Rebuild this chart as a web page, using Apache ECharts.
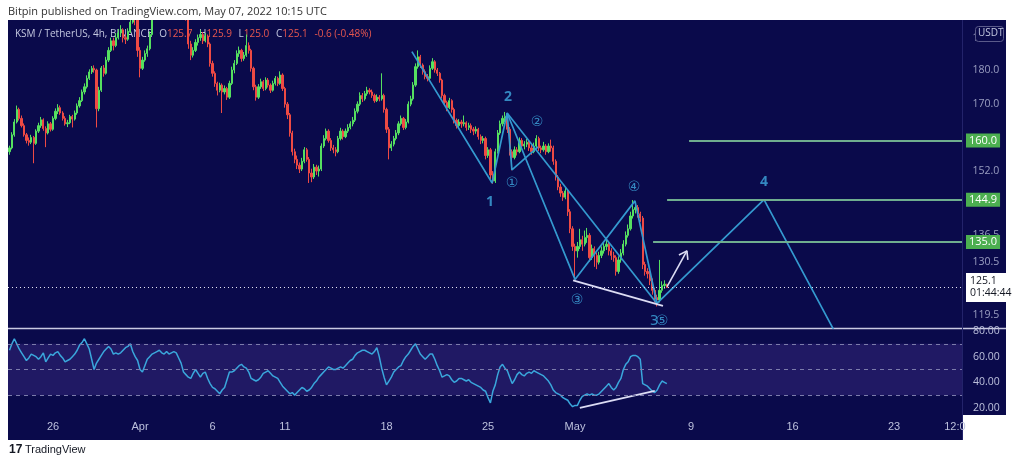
<!DOCTYPE html>
<html><head><meta charset="utf-8">
<script src="https://cdn.jsdelivr.net/npm/echarts@6/dist/echarts.min.js"></script>
<style>html,body{margin:0;padding:0;background:#fff;}#c{width:1024px;height:465px;}</style>
</head><body><div id="c"></div>
<script>
// 4h candles from 23 Mar 2022 00:00 UTC, rows = [open, close, low, high]
const candles = [
[157.0,158.0,156.2,158.6],[158.0,161.5,157.6,162.2],[161.5,165.0,161.0,165.8],[165.0,168.5,164.6,169.6],[168.5,166.0,165.4,169.0],
[166.0,164.0,163.5,166.8],[164.0,161.5,161.0,164.6],[161.5,160.0,159.2,162.0],[160.0,159.5,158.6,160.8],[159.5,160.8,159.0,161.5],
[160.8,159.2,154.0,161.2],[159.2,162.5,158.8,163.0],[162.5,164.0,162.0,164.8],[164.0,165.6,163.4,166.4],[165.6,163.2,162.6,166.0],
[163.2,162.0,158.2,163.8],[162.0,164.5,161.6,165.2],[164.5,163.0,162.4,165.0],[163.0,166.0,162.6,166.6],[166.0,168.0,165.5,168.8],
[168.0,169.0,167.2,170.0],[169.0,167.5,167.0,169.6],[167.5,166.0,165.4,168.0],[166.0,164.5,164.0,166.6],[164.5,164.8,163.6,165.6],
[164.8,166.5,164.4,167.0],[166.5,165.8,163.5,167.0],[165.8,167.5,165.4,168.2],[167.5,169.5,167.0,170.2],[169.5,171.0,169.0,172.0],
[171.0,173.5,170.6,174.2],[173.5,175.0,172.8,176.0],[175.0,177.5,174.5,178.4],[177.5,179.4,177.0,180.2],[179.4,180.5,178.8,181.2],
[180.5,180.0,179.2,181.4],[180.0,168.7,163.5,180.4],[168.7,174.0,168.0,175.0],[174.0,180.6,173.5,181.2],[180.6,179.0,178.0,181.5],
[179.0,183.0,178.6,184.0],[183.0,186.0,182.4,187.0],[186.0,189.0,185.5,190.0],[189.0,187.5,186.0,190.0],[187.5,190.0,187.0,191.5],
[190.0,191.5,189.4,192.8],[191.5,192.5,190.5,194.0],[192.5,190.0,188.5,193.0],[190.0,189.5,188.0,191.0],[189.5,192.0,189.0,193.0],
[192.0,195.0,191.5,196.5],[195.0,198.0,194.5,199.5],[198.0,196.0,194.0,199.0],[196.0,186.0,184.0,196.5],[186.0,180.5,177.8,187.0],
[180.5,183.0,180.0,184.0],[183.0,185.0,182.5,186.0],[185.0,186.5,184.0,187.5],[186.5,191.0,186.0,192.0],[191.0,196.5,190.5,197.5],
[196.5,199.0,196.0,200.5],[199.0,201.0,198.0,202.5],[201.0,203.0,200.0,204.0],[203.0,206.0,202.0,207.0],[206.0,208.0,205.0,209.5],
[208.0,205.5,204.5,209.0],[205.5,207.0,204.5,208.0],[207.0,210.0,206.0,211.0],[210.0,208.5,207.0,211.0],[208.5,206.0,205.0,209.0],
[206.0,204.0,203.0,207.0],[204.0,205.0,202.5,206.0],[205.0,201.0,200.0,205.5],[201.0,197.0,195.5,202.0],[197.0,188.0,186.5,198.0],
[188.0,184.5,183.0,189.0],[184.5,186.0,183.8,187.0],[186.0,188.5,185.5,189.5],[188.5,190.0,187.5,191.0],[190.0,191.0,189.0,192.5],
[191.0,189.0,188.0,191.8],[189.0,190.5,188.5,191.5],[190.5,188.0,187.0,191.0],[188.0,182.0,181.0,188.5],[182.0,179.0,178.0,182.8],
[179.0,176.0,175.0,179.6],[176.0,174.0,172.5,176.5],[174.0,175.5,173.4,176.2],[175.5,173.5,167.5,176.0],[173.5,174.5,172.8,175.4],
[174.5,172.0,171.2,175.0],[172.0,176.0,171.5,176.8],[176.0,180.0,175.5,181.0],[180.0,182.0,179.0,183.0],[182.0,185.0,181.5,186.0],
[185.0,186.0,184.0,187.2],[186.0,183.5,182.5,186.5],[183.5,184.5,182.8,185.5],[184.5,187.5,184.0,191.0],[187.5,186.0,185.0,188.5],
[186.0,180.5,179.5,186.5],[180.5,175.0,174.0,181.0],[175.0,172.0,171.0,175.6],[172.0,175.0,171.5,175.8],[175.0,176.5,174.4,177.4],
[176.5,174.5,173.8,177.0],[174.5,177.0,174.0,177.8],[177.0,175.5,174.8,177.6],[175.5,174.0,173.2,176.0],[174.0,176.0,173.6,176.8],
[176.0,177.5,175.4,178.2],[177.5,176.0,175.2,178.0],[176.0,178.5,175.6,179.6],[178.5,174.5,173.8,179.0],[174.5,170.0,169.0,175.0],
[170.0,167.0,165.8,170.6],[167.0,162.0,161.0,167.5],[162.0,157.0,156.0,162.6],[157.0,155.0,154.0,157.8],[155.0,153.5,152.5,156.0],
[153.5,152.5,151.5,154.2],[152.5,154.5,152.0,155.4],[154.5,157.5,154.0,158.2],[157.5,155.0,154.4,158.0],[155.0,151.5,149.0,155.6],
[151.5,150.5,149.2,152.6],[150.5,153.0,150.0,153.8],[153.0,152.0,151.0,153.6],[152.0,152.5,150.6,153.4],[152.5,158.5,152.0,159.2],
[158.5,160.5,158.0,161.4],[160.5,162.5,160.0,163.2],[162.5,160.0,159.4,163.0],[160.0,158.0,157.2,160.6],[158.0,157.5,156.6,158.8],
[157.5,157.0,155.8,158.2],[157.0,160.5,156.6,161.2],[160.5,162.5,160.0,163.4],[162.5,161.0,160.2,163.0],[161.0,162.5,160.6,163.2],
[162.5,163.5,162.0,164.4],[163.5,164.5,163.0,165.2],[164.5,165.5,163.8,166.4],[165.5,168.0,165.0,168.8],[168.0,170.0,167.4,170.8],
[170.0,172.5,169.5,173.4],[172.5,171.5,170.6,173.2],[171.5,173.0,171.0,173.8],[173.0,174.0,172.4,175.0],[174.0,173.5,172.8,174.6],
[173.5,172.5,171.8,174.2],[172.5,171.0,170.4,173.0],[171.0,172.0,170.6,172.8],[172.0,171.5,170.8,172.6],[171.5,172.5,171.0,179.0],
[172.5,168.5,167.6,173.0],[168.5,163.0,162.0,169.0],[163.0,158.0,155.0,163.6],[158.0,159.0,157.2,159.8],[159.0,160.5,158.4,161.2],
[160.5,162.0,160.0,162.8],[162.0,164.5,161.4,165.2],[164.5,166.0,164.0,166.8],[166.0,163.5,162.8,166.4],[163.5,165.0,163.0,165.8],
[165.0,170.0,164.6,170.8],[170.0,171.5,169.4,172.4],[171.5,175.5,171.0,176.4],[175.5,181.0,175.0,182.0],[181.0,184.0,180.4,186.0],
[184.0,181.5,180.6,184.6],[181.5,179.5,178.6,182.0],[179.5,178.0,177.2,180.2],[178.0,177.5,176.6,178.8],[177.5,180.5,177.0,181.4],
[180.5,182.5,180.0,183.6],[182.5,180.0,179.2,183.0],[180.0,179.0,178.2,180.6],[179.0,177.0,176.2,179.4],[177.0,172.5,171.6,177.4],
[172.5,170.5,169.6,173.0],[170.5,169.0,168.0,171.0],[169.0,171.0,168.6,171.8],[171.0,168.5,167.6,171.4],[168.5,165.5,164.6,169.0],
[165.5,164.0,163.2,166.0],[164.0,165.0,163.6,165.8],[165.0,164.5,163.4,165.6],[164.5,164.8,163.8,166.8],[164.8,163.5,162.6,165.2],
[163.5,164.0,162.8,164.8],[164.0,163.0,162.0,164.6],[163.0,162.5,161.4,163.6],[162.5,163.0,161.8,163.8],[163.0,161.0,160.2,163.4],
[161.0,160.0,159.0,161.6],[160.0,160.5,159.2,161.2],[160.5,156.0,155.0,161.0],[156.0,157.5,155.4,158.2],[157.5,151.0,150.0,158.0],
[151.0,149.5,148.8,152.0],[149.5,157.0,149.0,157.8],[157.0,162.0,156.5,162.8],[162.0,164.5,161.5,165.4],[164.5,166.0,163.8,166.8],
[166.0,166.5,165.0,167.8],[166.5,163.0,162.0,167.0],[163.0,157.0,156.0,163.6],[157.0,155.5,152.2,157.6],[155.5,157.5,155.0,158.4],
[157.5,157.0,156.0,158.2],[157.0,160.0,156.6,160.8],[160.0,158.5,157.8,160.6],[158.5,159.0,157.6,159.8],[159.0,159.5,158.2,160.4],
[159.5,158.0,157.2,160.0],[158.0,157.0,156.2,158.8],[157.0,158.5,156.6,159.4],[158.5,160.5,158.0,161.4],[160.5,158.0,157.2,161.0],
[158.0,157.5,156.6,158.6],[157.5,158.5,157.0,159.6],[158.5,157.0,156.2,159.0],[157.0,158.5,156.6,159.2],[158.5,158.0,157.0,160.2],
[158.0,154.5,153.6,158.6],[154.5,150.5,149.6,155.0],[150.5,148.0,147.2,151.0],[148.0,146.5,145.6,148.8],[146.5,145.5,144.6,147.0],
[145.5,147.0,145.0,147.8],[147.0,142.0,141.0,147.4],[142.0,138.0,137.0,142.6],[138.0,134.0,133.0,138.6],[134.0,133.0,126.8,134.6],
[133.0,134.0,131.5,135.0],[134.0,135.5,133.4,138.0],[135.5,134.5,133.0,136.4],[134.5,136.0,134.0,137.6],[136.0,136.5,134.8,138.2],
[136.5,131.5,130.6,137.0],[131.5,133.5,131.0,134.4],[133.5,132.0,129.5,134.0],[132.0,130.5,129.0,132.6],[130.5,132.0,130.0,132.8],
[132.0,133.0,131.4,134.0],[133.0,134.0,132.4,135.0],[134.0,134.5,133.2,136.0],[134.5,133.0,132.0,135.0],[133.0,132.0,131.0,133.6],
[132.0,131.5,130.6,132.8],[131.5,128.5,127.6,132.0],[128.5,131.0,128.0,131.8],[131.0,132.5,130.4,133.4],[132.5,134.5,132.0,135.4],
[134.5,136.5,134.0,137.4],[136.5,138.0,136.0,139.0],[138.0,141.0,137.6,142.0],[141.0,142.5,140.4,144.8],[142.5,143.0,141.6,144.0],
[143.0,141.5,140.6,143.6],[141.5,140.5,139.6,142.0],[140.5,130.0,129.0,141.0],[130.0,128.5,127.6,130.6],[128.5,128.0,127.0,129.2],
[128.0,126.5,125.6,128.6],[126.5,124.5,123.6,127.0],[124.5,123.0,122.0,125.0],[123.0,122.5,121.2,123.6],[122.5,124.5,122.0,131.0],
[124.5,125.5,124.0,126.4],[125.5,125.8,124.8,126.6],[125.7,125.1,125.0,125.9]
];
// RSI(14) per candle
const rsi = [
65,70,74,70,66,63,60,57,59,62, 61,60,58,60,63,56,59,62,61,63,
64,61,59,56,57,58,60,62,65,69, 71,74,70,66,58,50,55,58,61,64,
66,68,66,62,63,62,63,65,67,68, 70,64,60,57,50,48,53,58,60,62,
63,64,65,63,62,64,62,63,64,63, 59,55,48,46,44,43,47,50,47,44,
47,48,43,39,36,35,33,31,34,36, 42,48,48,49,51,53,54,52,51,48,
43,42,41,42,44,47,48,49,47,45, 44,43,40,37,35,33,31,32,30,32,
34,36,35,33,34,36,39,41,44,46, 48,50,52,51,50,50,51,52,51,53,
55,57,58,61,63,64,65,65,64,63, 62,64,67,60,51,44,38,41,44,48,
50,52,53,57,60,62,65,68,70,66, 62,60,58,60,62,62,58,53,49,44,
45,46,45,42,40,41,43,43,42,41, 42,40,39,38,37,36,34,33,28,24,
33,38,46,52,54,51,49,44,39,42, 46,48,46,45,47,48,47,49,48,47,
46,45,43,41,38,34,32,31,30,28, 27,26,23,21,22,22,26,29,30,31,
30,31,30,30,31,33,35,37,39,36, 34,36,40,43,50,54,56,60,61,61,
60,58,39,38,37,35,33,32,34,38, 41,40,39
];
const dateTicks = [18,54,84,114,156,198,234,282,324,366,391.2];
const dateLabels = ['26','Apr','6','11','18','25','May','9','16','23','12:0'];
const priceTicks = [190,180,170,152,136.5,130.5,119.5];
const rsiTicks = [20,40,60,80];
const targetLevels = [160.0,144.9,135.0];
const targetStarts = [281.2,272.1,266.3];
const lastPrice = 125.1;
const countdown = '01:44:44';
// drawings, in [bar index, price]
const waveMain = [[166.5,185.6],[199.7,149.0],[205.9,167.5],[234.0,126.8],[258.8,144.6],[267.9,121.8],[312.2,144.9],[343.4,114.5]];
const waveSub = [[205.9,167.5],[207.9,152.3],[218.7,158.3]];
const waveLong = [[205.9,167.5],[267.9,121.8]];
const supportLine = [[233.2,126.6],[270.4,121.3]];
const arrowShaft = [[272.1,125.3],[280.3,133.0]];
const arrowHead = [[277.0,132.1],[280.3,133.0],[280.7,131.0]];
const rsiDivergence = [[236,20.0],[267,33.3]];
const waveLabels = [[198.8,144.3,'1'],[206.3,172.1,'2'],[312.2,149.3,'4']];
const circledLabels = [[207.9,148.8,'①'],[218.3,165.0,'②'],[234.8,122.4,'③'],[258.4,147.8,'④'],[266.8,118.2,'3'],[270.0,118.2,'⑤']];

const X_MIN = -0.62, X_MAX = 394.13;
const NAVY = '#0a0a4b';
const AXIS_TXT = '#bcc0dc';
const WAVE = '#3499cf';
const chart = echarts.init(document.getElementById('c'), null, {renderer:'canvas', width:1024, height:465});
const candleData = candles.map((d,i)=>[i,d[0],d[1],d[2],d[3]]);
const rsiData = rsi.map((v,i)=>[i,v]);

const targetLines = targetLevels.map((lv,k)=>[
  {coord:[targetStarts[k],lv], lineStyle:{color:'#6fae8f',width:2,type:'solid'},
   label:{show:true,position:'end',distance:4,formatter:lv.toFixed(1),color:'#fff',backgroundColor:'#4caf50',padding:[2,3,1,3],fontSize:11,fontFamily:'Open Sans'}},
  {coord:[X_MAX,lv]}
]);
const lastLine = [
  {coord:[X_MIN,lastPrice], lineStyle:{color:'#e6e6f4',width:1,type:[1,3]},
   label:{show:true,position:'end',distance:4,formatter:lastPrice.toFixed(1)+'\n'+countdown,color:'#131722',backgroundColor:'#ffffff',padding:[3,4,2,4],fontSize:10.5,lineHeight:12,fontFamily:'Open Sans',align:'left'}},
  {coord:[X_MAX,lastPrice]}
];

function lineSeries(data, color, width, xi, yi) {
  return {type:'line', xAxisIndex:xi||0, yAxisIndex:yi||0, data:data, symbol:'none', silent:true, z:4,
    lineStyle:{color:color,width:width}, clip:true, animation:false};
}

const option = {
  animation:false,
  backgroundColor:'#ffffff',
  graphic:[
    {type:'rect', z:-10, shape:{x:8,y:20,width:998,height:395}, style:{fill:NAVY}},
    {type:'rect', z:-10, shape:{x:8,y:415,width:954,height:25}, style:{fill:NAVY}},
    {type:'line', z:-5, shape:{x1:8,y1:328.5,x2:1006,y2:328.5}, style:{stroke:'#c9c9e2',lineWidth:1.5}},
    {type:'line', z:-5, shape:{x1:962.5,y1:20,x2:962.5,y2:440}, style:{stroke:'#23236a',lineWidth:1}},
    // white mask above the chart frame (candles beyond the pane top are cut there)
    {type:'rect', z:30, shape:{x:0,y:0,width:1024,height:20}, style:{fill:'#ffffff'}},
    {type:'text', z:31, left:8, top:6, style:{text:'Bitpin published on TradingView.com, May 07, 2022 10:15 UTC', fill:'#333333', font:'11px "Open Sans"'}},
    {type:'text', z:0, left:15, top:28, style:{
      text:'{n|KSM / TetherUS, 4h, BINANCE}  {n|O}{r|125.7}  {n|H}{r|125.9}  {n|L}{r|125.0}  {n|C}{r|125.1}  {r|-0.6 (-0.48%)}',
      rich:{n:{fill:'#c4c8e0',font:'10px "Open Sans"'}, r:{fill:'#e8574f',font:'10px "Open Sans"'}}}},
    {type:'rect', z:20, shape:{x:975.5,y:26.5,width:28,height:15,r:3}, style:{fill:NAVY,stroke:'#5a5a8a',lineWidth:1}},
    {type:'text', z:21, left:978, top:28, style:{text:'USDT', fill:'#c4c8e0', font:'10px "Open Sans"'}},
    {type:'text', z:0, left:9, top:444, style:{text:'17', fill:'#131722', font:'bold 12px "Liberation Sans"'}},
    {type:'text', z:0, left:25, top:444, style:{text:'TradingView', fill:'#131722', font:'11px "Liberation Sans Narrow", "Liberation Sans"'}}
  ],
  grid:[
    {left:8, top:20, width:954, height:308, outerBoundsMode:'none', containLabel:false},
    {left:8, top:330, width:954, height:85, outerBoundsMode:'none', containLabel:false}
  ],
  xAxis:[
    {type:'value', gridIndex:0, min:X_MIN, max:X_MAX, show:false},
    {type:'value', gridIndex:1, min:X_MIN, max:X_MAX, axisLine:{show:false}, axisTick:{show:false}, splitLine:{show:false},
     axisLabel:{show:true, customValues:dateTicks, margin:6, color:AXIS_TXT, fontSize:11, fontFamily:'"Liberation Sans Narrow", "Liberation Sans"',
       formatter:function(v){ const k = dateTicks.findIndex(t=>Math.abs(t-v)<0.01); return k>=0?dateLabels[k]:''; }}}
  ],
  yAxis:[
    {type:'log', logBase:10, gridIndex:0, min:116.9, max:195.7, show:false, splitLine:{show:false}},
    {type:'value', gridIndex:1, min:14.5, max:80.8, position:'right', axisLine:{show:false}, axisTick:{show:false}, splitLine:{show:false},
     axisLabel:{show:true, customValues:rsiTicks, margin:11, color:AXIS_TXT, fontSize:10.5, fontFamily:'Open Sans',
       formatter:function(v){return Number(v).toFixed(2);}}}
  ],
  series:[
    {type:'scatter', xAxisIndex:0, yAxisIndex:0, z:1, silent:true, clip:false,
     data:priceTicks.map(v=>[X_MAX,v]), symbolSize:1, itemStyle:{color:'rgba(0,0,0,0)'},
     label:{show:true, position:'right', distance:10, color:AXIS_TXT, fontSize:10.5, fontFamily:'Open Sans',
       formatter:function(p){return p.value[1].toFixed(1);}}},
    {type:'candlestick', xAxisIndex:0, yAxisIndex:0, z:2, silent:true, clip:true,
     data:candleData, encode:{x:0, y:[1,2,3,4]}, barWidth:1.7,
     itemStyle:{color:'#55e060', color0:'#ee4a44', borderColor:'#55e060', borderColor0:'#ee4a44', borderWidth:1},
     markLine:{silent:true, symbol:['none','none'], animation:false, z:5, data:targetLines.concat([lastLine])}},
    lineSeries(waveMain, WAVE, 1.7),
    lineSeries(waveSub, WAVE, 1.7),
    lineSeries(waveLong, WAVE, 1.7),
    lineSeries(supportLine, '#dcdcf4', 1.8),
    lineSeries(arrowShaft, '#dcdcf4', 1.6),
    lineSeries(arrowHead, '#dcdcf4', 1.6),
    {type:'scatter', xAxisIndex:0, yAxisIndex:0, z:6, silent:true, clip:false,
     data:waveLabels, symbolSize:1, itemStyle:{color:'rgba(0,0,0,0)'},
     label:{show:true, position:'inside', color:'#3ea8de', fontSize:14, fontWeight:'bold', fontFamily:'Open Sans',
       formatter:function(p){return p.value[2];}}},
    {type:'scatter', xAxisIndex:0, yAxisIndex:0, z:6, silent:true, clip:false,
     data:circledLabels, symbolSize:1, itemStyle:{color:'rgba(0,0,0,0)'},
     label:{show:true, position:'inside', color:'#3ea8de', fontSize:14, fontFamily:'"DejaVu Sans", "Noto Sans CJK SC"',
       formatter:function(p){return p.value[2];}}},
    {type:'line', xAxisIndex:1, yAxisIndex:1, data:rsiData, symbol:'none', silent:true, z:3,
     lineStyle:{color:'#3aa7dc', width:1.5},
     markArea:{silent:true, itemStyle:{color:'rgba(120,84,200,0.2)'}, data:[[{yAxis:70},{yAxis:30}]]},
     markLine:{silent:true, symbol:['none','none'], label:{show:false},
       lineStyle:{color:'#7c7cab', width:1, type:[4,4]},
       data:[{yAxis:70},{yAxis:50},{yAxis:30}]}},
    lineSeries(rsiDivergence, '#dcdcf4', 1.8, 1, 1)
  ]
};
chart.setOption(option);
</script>
</body></html>
